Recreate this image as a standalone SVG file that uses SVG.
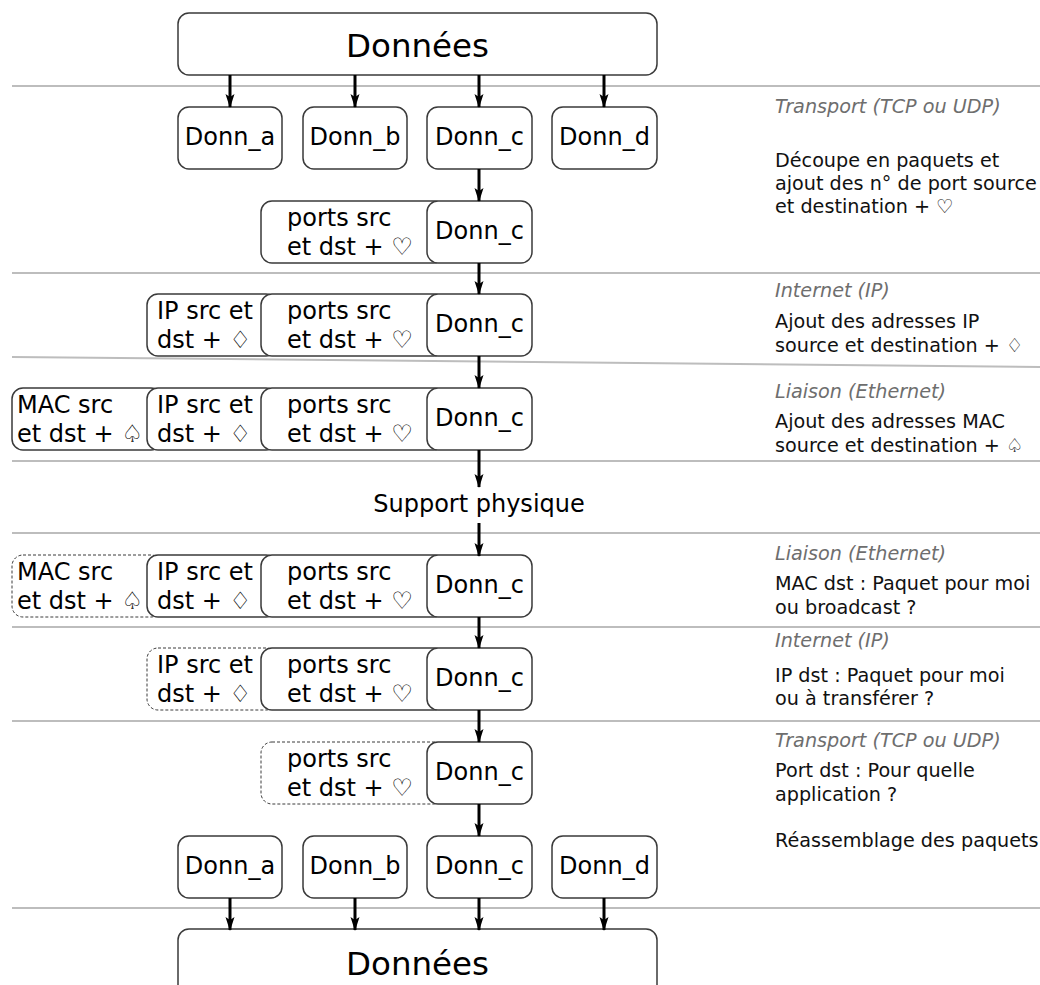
<svg xmlns="http://www.w3.org/2000/svg" width="1040" height="985" viewBox="0 0 1040 985">
  <style>
    .bg { fill: #ffffff; }
    .sep { stroke: #bdbdbd; stroke-width: 2; fill: none; }
    .box { fill: #ffffff; stroke: #3a3a3a; stroke-width: 1.5; }
    .dash { fill: #ffffff; stroke: #3a3a3a; stroke-width: 1; stroke-dasharray: 3 2; }
    .t { font-family: "DejaVu Sans", "Liberation Sans", sans-serif; font-size: 24px; fill: #000; }
    .big { font-family: "DejaVu Sans", "Liberation Sans", sans-serif; font-size: 32.5px; fill: #000; text-anchor: middle; }
    .mid { text-anchor: middle; }
    .hdr { font-family: "DejaVu Sans", "Liberation Sans", sans-serif; font-size: 19.2px; font-style: italic; fill: #6e6e6e; }
    .note { font-family: "DejaVu Sans", "Liberation Sans", sans-serif; font-size: 19.2px; fill: #111; }
    .arrow { stroke: #000; stroke-width: 3; fill: none; marker-end: url(#head); }
  </style>
  <defs>
    <marker id="head" markerUnits="userSpaceOnUse" viewBox="0 -5 14 10" refX="13" refY="0" markerWidth="14" markerHeight="10" orient="auto">
      <path d="M0,-4.5 L14,0 L0,4.5 L3,0 z" fill="#000"/>
    </marker>
  </defs>

  <rect class="bg" x="0" y="0" width="1040" height="985"/>

  <!-- layer separators -->
  <g id="separators">
    <line class="sep" x1="12" y1="86" x2="1040" y2="86"/>
    <line class="sep" x1="12" y1="273" x2="1040" y2="273"/>
    <line class="sep" x1="12" y1="357" x2="1040" y2="367"/>
    <line class="sep" x1="12" y1="461" x2="1040" y2="461"/>
    <line class="sep" x1="12" y1="533" x2="1040" y2="533"/>
    <line class="sep" x1="12" y1="627" x2="1040" y2="627"/>
    <line class="sep" x1="12" y1="721" x2="1040" y2="721"/>
    <line class="sep" x1="12" y1="908" x2="1040" y2="908"/>
  </g>

  <!-- sender side -->
  <g id="data-top">
    <rect class="box" x="178" y="13" width="479" height="62" rx="11"/>
    <text class="big" x="417.5" y="57">Données</text>
  </g>
  <g id="split-a-top">
    <rect class="box" x="178" y="107" width="104" height="62" rx="11"/>
    <text class="t mid" x="230" y="145">Donn_a</text>
  </g>
  <g id="split-b-top">
    <rect class="box" x="303" y="107" width="104" height="62" rx="11"/>
    <text class="t mid" x="355" y="145">Donn_b</text>
  </g>
  <g id="split-c-top">
    <rect class="box" x="427" y="107" width="105" height="62" rx="11"/>
    <text class="t mid" x="479.5" y="145">Donn_c</text>
  </g>
  <g id="split-d-top">
    <rect class="box" x="552" y="107" width="105" height="62" rx="11"/>
    <text class="t mid" x="604.5" y="145">Donn_d</text>
  </g>

  <!-- transport segment -->
  <g id="seg-transport">
    <rect class="box" x="261" y="201" width="184" height="62" rx="11"/>
    <text class="t" x="287" y="226">ports src</text>
    <text class="t" x="287" y="255">et dst + ♡</text>
    <rect class="box" x="427" y="201" width="105" height="62" rx="11"/>
    <text class="t mid" x="479.5" y="239">Donn_c</text>
  </g>

  <!-- IP packet -->
  <g id="pkt-ip">
    <rect class="box" x="147" y="294" width="130" height="62" rx="11"/>
    <text class="t" x="157" y="319">IP src et</text>
    <text class="t" x="157" y="348">dst + ♢</text>
    <rect class="box" x="261" y="294" width="184" height="62" rx="11"/>
    <text class="t" x="287" y="319">ports src</text>
    <text class="t" x="287" y="348">et dst + ♡</text>
    <rect class="box" x="427" y="294" width="105" height="62" rx="11"/>
    <text class="t mid" x="479.5" y="332">Donn_c</text>
  </g>

  <!-- Ethernet frame -->
  <g id="frame-eth">
    <rect class="box" x="12" y="388" width="150" height="62" rx="11"/>
    <text class="t" x="17" y="413">MAC src</text>
    <text class="t" x="17" y="442">et dst + ♤</text>
    <rect class="box" x="147" y="388" width="130" height="62" rx="11"/>
    <text class="t" x="157" y="413">IP src et</text>
    <text class="t" x="157" y="442">dst + ♢</text>
    <rect class="box" x="261" y="388" width="184" height="62" rx="11"/>
    <text class="t" x="287" y="413">ports src</text>
    <text class="t" x="287" y="442">et dst + ♡</text>
    <rect class="box" x="427" y="388" width="105" height="62" rx="11"/>
    <text class="t mid" x="479.5" y="426">Donn_c</text>
  </g>

  <g id="medium">
    <text class="t mid" x="479" y="512">Support physique</text>
  </g>

  <!-- receiver side -->
  <g id="frame-eth-rx">
    <rect class="dash" x="12" y="555" width="150" height="62" rx="11"/>
    <text class="t" x="17" y="580">MAC src</text>
    <text class="t" x="17" y="609">et dst + ♤</text>
    <rect class="box" x="147" y="555" width="130" height="62" rx="11"/>
    <text class="t" x="157" y="580">IP src et</text>
    <text class="t" x="157" y="609">dst + ♢</text>
    <rect class="box" x="261" y="555" width="184" height="62" rx="11"/>
    <text class="t" x="287" y="580">ports src</text>
    <text class="t" x="287" y="609">et dst + ♡</text>
    <rect class="box" x="427" y="555" width="105" height="62" rx="11"/>
    <text class="t mid" x="479.5" y="593">Donn_c</text>
  </g>

  <g id="pkt-ip-rx">
    <rect class="dash" x="147" y="648" width="130" height="62" rx="11"/>
    <text class="t" x="157" y="673">IP src et</text>
    <text class="t" x="157" y="702">dst + ♢</text>
    <rect class="box" x="261" y="648" width="184" height="62" rx="11"/>
    <text class="t" x="287" y="673">ports src</text>
    <text class="t" x="287" y="702">et dst + ♡</text>
    <rect class="box" x="427" y="648" width="105" height="62" rx="11"/>
    <text class="t mid" x="479.5" y="686">Donn_c</text>
  </g>

  <g id="seg-transport-rx">
    <rect class="dash" x="261" y="742" width="184" height="62" rx="11"/>
    <text class="t" x="287" y="767">ports src</text>
    <text class="t" x="287" y="796">et dst + ♡</text>
    <rect class="box" x="427" y="742" width="105" height="62" rx="11"/>
    <text class="t mid" x="479.5" y="780">Donn_c</text>
  </g>

  <g id="split-a-bottom">
    <rect class="box" x="178" y="836" width="104" height="62" rx="11"/>
    <text class="t mid" x="230" y="874">Donn_a</text>
  </g>
  <g id="split-b-bottom">
    <rect class="box" x="303" y="836" width="104" height="62" rx="11"/>
    <text class="t mid" x="355" y="874">Donn_b</text>
  </g>
  <g id="split-c-bottom">
    <rect class="box" x="427" y="836" width="105" height="62" rx="11"/>
    <text class="t mid" x="479.5" y="874">Donn_c</text>
  </g>
  <g id="split-d-bottom">
    <rect class="box" x="552" y="836" width="105" height="62" rx="11"/>
    <text class="t mid" x="604.5" y="874">Donn_d</text>
  </g>
  <g id="data-bottom">
    <rect class="box" x="178" y="929" width="479" height="80" rx="11"/>
    <text class="big" x="417.5" y="975">Données</text>
  </g>

  <!-- flow arrows -->
  <g id="connectors">
    <line class="arrow" x1="230" y1="75" x2="230" y2="107"/>
    <line class="arrow" x1="355" y1="75" x2="355" y2="107"/>
    <line class="arrow" x1="479" y1="75" x2="479" y2="107"/>
    <line class="arrow" x1="604" y1="75" x2="604" y2="107"/>
    <line class="arrow" x1="479" y1="169" x2="479" y2="201"/>
    <line class="arrow" x1="479" y1="263" x2="479" y2="294"/>
    <line class="arrow" x1="479" y1="356" x2="479" y2="388"/>
    <line class="arrow" x1="479" y1="450" x2="479" y2="487"/>
    <line class="arrow" x1="479" y1="523" x2="479" y2="556"/>
    <line class="arrow" x1="479" y1="617" x2="479" y2="648"/>
    <line class="arrow" x1="479" y1="710" x2="479" y2="742"/>
    <line class="arrow" x1="479" y1="804" x2="479" y2="836"/>
    <line class="arrow" x1="230" y1="898" x2="230" y2="930"/>
    <line class="arrow" x1="355" y1="898" x2="355" y2="930"/>
    <line class="arrow" x1="479" y1="898" x2="479" y2="930"/>
    <line class="arrow" x1="604" y1="898" x2="604" y2="930"/>
  </g>

  <!-- layer notes -->
  <g id="notes">
    <text class="hdr" x="775" y="113">Transport (TCP ou UDP)</text>
    <text class="note" x="775" y="167">Découpe en paquets et</text>
    <text class="note" x="775" y="190">ajout des n° de port source</text>
    <text class="note" x="775" y="213">et destination + ♡</text>

    <text class="hdr" x="775" y="297">Internet (IP)</text>
    <text class="note" x="775" y="328">Ajout des adresses IP</text>
    <text class="note" x="775" y="352">source et destination + ♢</text>

    <text class="hdr" x="775" y="398">Liaison (Ethernet)</text>
    <text class="note" x="775" y="428">Ajout des adresses MAC</text>
    <text class="note" x="775" y="452">source et destination + ♤</text>

    <text class="hdr" x="775" y="560">Liaison (Ethernet)</text>
    <text class="note" x="775" y="590">MAC dst : Paquet pour moi</text>
    <text class="note" x="775" y="614">ou broadcast ?</text>

    <text class="hdr" x="775" y="647">Internet (IP)</text>
    <text class="note" x="775" y="682">IP dst : Paquet pour moi</text>
    <text class="note" x="775" y="705">ou à transférer ?</text>

    <text class="hdr" x="775" y="747">Transport (TCP ou UDP)</text>
    <text class="note" x="775" y="777">Port dst : Pour quelle</text>
    <text class="note" x="775" y="801">application ?</text>
    <text class="note" x="775" y="847">Réassemblage des paquets</text>
  </g>
</svg>
